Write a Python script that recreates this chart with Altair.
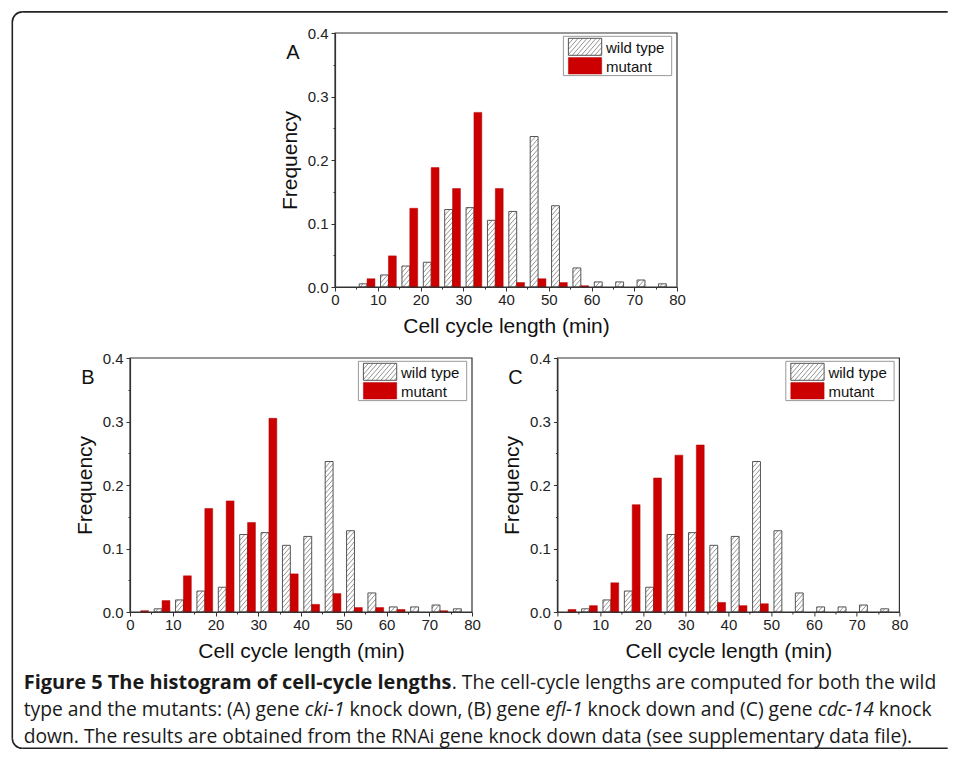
import os
import math
import struct
import altair as alt
import pandas as pd

# ---------------------------------------------------------------- data
bin_starts = list(range(0, 80, 5))          # histogram bins of 5 min
wild_type = [0.0, 0.005, 0.019, 0.033, 0.039, 0.122, 0.125, 0.105,
             0.119, 0.237, 0.128, 0.030, 0.008, 0.008, 0.011, 0.005]
mutant_A = [0.0, 0.013, 0.049, 0.124, 0.188, 0.155, 0.275, 0.155,
            0.007, 0.013, 0.007, 0.002, 0.0, 0.0, 0.0, 0.0]
mutant_B = [0.002, 0.018, 0.057, 0.163, 0.175, 0.141, 0.305, 0.060,
            0.012, 0.029, 0.007, 0.007, 0.004, 0.0, 0.002, 0.0]
mutant_C = [0.004, 0.010, 0.046, 0.169, 0.211, 0.247, 0.263, 0.015,
            0.010, 0.013, 0.0, 0.0, 0.0, 0.0, 0.0, 0.0]
panel_letters = ["A", "B", "C"]
legend_labels = ["wild type", "mutant"]
x_tick_values = list(range(0, 81, 5))
y_tick_values = [0.0, 0.05, 0.1, 0.15, 0.2, 0.25, 0.3, 0.35, 0.4]
x_title = "Cell cycle length (min)"
y_title = "Frequency"
caption_bold = "Figure 5 The histogram of cell-cycle lengths"
caption_line1 = ". The cell-cycle lengths are computed for both the wild"
caption_line2 = [("type and the mutants: (A) gene ", "normal"), ("cki-1", "italic"),
                 (" knock down, (B) gene ", "normal"), ("efl-1", "italic"),
                 (" knock down and (C) gene ", "normal"), ("cdc-14", "italic"),
                 (" knock", "normal")]
caption_line3 = "down. The results are obtained from the RNAi gene knock down data (see supplementary data file)."

# ---------------------------------------------------------------- layout
W, H = 342, 254
PX_X = W / 80.0
PX_Y = H / 0.4
RED = "#cc0000"
FONT = "Liberation Sans"
COL_GAP, ROW_GAP = 85.4, 71
A_SHIFT = 205                     # panel A sits 205 px right of panel B
# origin of the spacer cell (column 2, row 1) on the page
OX, OY = 128.3 + W + COL_GAP, 30.7

# ---------------------------------------------------------------- font metrics (for caption runs)
def _find(names):
    names = [n.lower() for n in names]
    for root in ["/usr/share/fonts", "/usr/local/share/fonts",
                 os.path.expanduser("~/.fonts"), os.path.expanduser("~/.local/share/fonts")]:
        for dp, dn, fn in os.walk(root):
            for f in fn:
                if f.lower() in names:
                    return os.path.join(dp, f)
    return None


def _metrics(path):
    data = open(path, "rb").read()
    n = struct.unpack(">H", data[4:6])[0]
    tabs = {}
    for i in range(n):
        tag, cs, off, ln = struct.unpack(">4sIII", data[12 + 16 * i: 28 + 16 * i])
        tabs[tag.decode("latin-1")] = off
    upem = struct.unpack(">H", data[tabs["head"] + 18: tabs["head"] + 20])[0]
    nhm = struct.unpack(">H", data[tabs["hhea"] + 34: tabs["hhea"] + 36])[0]
    hm = tabs["hmtx"]
    adv = [struct.unpack(">H", data[hm + 4 * i: hm + 4 * i + 2])[0] for i in range(nhm)]
    cm = tabs["cmap"]
    nt = struct.unpack(">H", data[cm + 2: cm + 4])[0]
    sub = None
    for i in range(nt):
        pid, eid, off = struct.unpack(">HHI", data[cm + 4 + 8 * i: cm + 12 + 8 * i])
        fmt = struct.unpack(">H", data[cm + off: cm + off + 2])[0]
        if fmt == 4 and pid in (0, 3):
            sub = cm + off
            break
    segx2 = struct.unpack(">H", data[sub + 6: sub + 8])[0]
    sc = segx2 // 2
    ends = struct.unpack(">%dH" % sc, data[sub + 14: sub + 14 + segx2])
    starts = struct.unpack(">%dH" % sc, data[sub + 16 + segx2: sub + 16 + 2 * segx2])
    deltas = struct.unpack(">%dh" % sc, data[sub + 16 + 2 * segx2: sub + 16 + 3 * segx2])
    rpos = sub + 16 + 3 * segx2
    ranges = struct.unpack(">%dH" % sc, data[rpos: rpos + segx2])

    def gid(c):
        for i in range(sc):
            if starts[i] <= c <= ends[i]:
                if ranges[i] == 0:
                    return (c + deltas[i]) & 0xFFFF
                a = rpos + 2 * i + ranges[i] + 2 * (c - starts[i])
                g = struct.unpack(">H", data[a: a + 2])[0]
                return (g + deltas[i]) & 0xFFFF if g else 0
        return 0

    def width(s):
        return sum(adv[min(gid(ord(ch)), nhm - 1)] for ch in s) / upem
    return width


CAP_FONT = "Open Sans"
try:
    reg = _find(["OpenSans-Regular.ttf", "OpenSans[wdth,wght].ttf", "OpenSans-VariableFont_wdth,wght.ttf"])
    if reg is None:
        CAP_FONT = "Liberation Sans"
        reg = _find(["LiberationSans-Regular.ttf"])
        bld = _find(["LiberationSans-Bold.ttf"])
        ita = _find(["LiberationSans-Italic.ttf"])
    else:
        bld = _find(["OpenSans-Bold.ttf"])
        ita = _find(["OpenSans-Italic.ttf"])
    w_reg = _metrics(reg)
    w_bold = _metrics(bld) if bld else (lambda s: 1.08 * w_reg(s))
    w_ital = _metrics(ita) if ita else (lambda s: 0.96 * w_reg(s))
except Exception:
    w_reg = lambda s: 0.53 * len(s)
    w_bold = lambda s: 0.58 * len(s)
    w_ital = lambda s: 0.51 * len(s)
WID = {"normal": w_reg, "bold": w_bold, "italic": w_ital}

# caption sizes: line 2 spans 22..930 px, line 1 ends near the frame edge
S_N = 908.0 / sum(WID[st](t) for t, st in caption_line2)
S_B = (921.0 - S_N * w_reg(caption_line1)) / w_bold(caption_bold)
S_B = max(S_N, min(1.035 * S_N, S_B))
SIZES = {"normal": S_N, "italic": S_N, "bold": S_B}

# ---------------------------------------------------------------- helpers
one = pd.DataFrame({"k": [0]})
MAJ_X = "datum.value % 10 === 0"
MAJ_Y = "abs(datum.value*10 - round(datum.value*10)) < 0.001"


def make_axes(dx):
    xa = alt.Axis(values=x_tick_values, format="d",
                  labelExpr=MAJ_X + " ? datum.label : ''",
                  tickSize={"condition": {"test": MAJ_X, "value": 4}, "value": 2},
                  labelPadding=1, titlePadding=8, labelOverlap=False, labelFlush=False, grid=False)
    ykw = dict(values=y_tick_values,
               labelExpr=MAJ_Y + " ? format(datum.value, '.1f') : ''",
               tickSize={"condition": {"test": MAJ_Y, "value": 4}, "value": 2},
               labelPadding=3, titlePadding=7, labelOverlap=False, labelFlush=False, grid=False)
    if dx:
        ykw["offset"] = -dx
    return xa, alt.Axis(**ykw)


def hatch_segments(x_lo, x_hi, y_lo, y_hi, step=5.2, slope=1.15):
    w = (x_hi - x_lo) * PX_X
    h = (y_hi - y_lo) * PX_Y
    segs = []
    c = -slope * w + step * 0.5
    while c < h:
        a = max(0.0, -c / slope)
        b = min(w, (h - c) / slope)
        if b - a > 0.4:
            segs.append((x_lo + a / PX_X, y_lo + (c + slope * a) / PX_Y,
                         x_lo + b / PX_X, y_lo + (c + slope * b) / PX_Y))
        c += step
    return segs


wt_df = pd.DataFrame({"lo": [b + 0.66 for b in bin_starts],
                      "hi": [b + 2.5 for b in bin_starts],
                      "freq": wild_type})
wt_df = wt_df[wt_df.freq > 0]
hatch_rows = []
for r in wt_df.itertuples():
    hatch_rows += hatch_segments(r.lo, r.hi, 0.0, r.freq)
# legend swatch for wild type (pixel box 233.4..266.7 x 5.3..22.3 of the plot)
hatch_rows += hatch_segments(233.4 / PX_X, 266.7 / PX_X, 0.4 - 22.3 / PX_Y, 0.4 - 5.3 / PX_Y)
hatch_df = pd.DataFrame(hatch_rows, columns=["hx1", "hy1", "hx2", "hy2"])


def panel(letter, mutant, dx=0):
    xs = alt.Scale(domain=[0, 80], nice=False, zero=False, range=[dx, dx + W])
    ys = alt.Scale(domain=[0, 0.4], nice=False, zero=False)
    xa, ya = make_axes(dx)

    def X(f):
        return alt.X(f, type="quantitative", scale=xs, axis=xa, title=x_title)

    def Y(f):
        return alt.Y(f, type="quantitative", scale=ys, axis=ya, title=y_title)

    mut_df = pd.DataFrame({"lo": [b + 2.5 for b in bin_starts],
                           "hi": [b + 4.34 for b in bin_starts],
                           "freq": mutant})
    mut_df = mut_df[mut_df.freq > 0]
    txt = dict(baseline="middle", font=FONT, color="#111111")
    layers = [
        alt.Chart(wt_df).mark_rect(fill="white", strokeOpacity=0).encode(
            x=X("lo"), x2="hi", y=Y("freq"), y2=alt.datum(0)),
        alt.Chart(hatch_df).mark_rule(color="#777777", strokeWidth=0.8).encode(
            x=X("hx1"), x2="hx2", y=Y("hy1"), y2="hy2"),
        alt.Chart(wt_df).mark_rect(fillOpacity=0, stroke="#555555", strokeWidth=1).encode(
            x=X("lo"), x2="hi", y=Y("freq"), y2=alt.datum(0)),
        alt.Chart(mut_df).mark_rect(fill=RED, stroke="#b00000", strokeWidth=0.5).encode(
            x=X("lo"), x2="hi", y=Y("freq"), y2=alt.datum(0)),
        # plot box
        alt.Chart(one).mark_rect(fillOpacity=0, stroke="#333333", strokeWidth=1.2).encode(
            x=alt.value(dx), x2=alt.value(dx + W), y=alt.value(0), y2=alt.value(H)),
        # legend box and swatches
        alt.Chart(one).mark_rect(fillOpacity=0, stroke="#999999", strokeWidth=1).encode(
            x=alt.value(dx + 228.4), x2=alt.value(dx + 336.7), y=alt.value(3.3), y2=alt.value(42.6)),
        alt.Chart(one).mark_rect(fillOpacity=0, stroke="#555555", strokeWidth=1).encode(
            x=alt.value(dx + 233.4), x2=alt.value(dx + 266.7), y=alt.value(5.3), y2=alt.value(22.3)),
        alt.Chart(one).mark_rect(fill=RED, stroke="#b00000", strokeWidth=0.5).encode(
            x=alt.value(dx + 233.4), x2=alt.value(dx + 266.7), y=alt.value(24.6), y2=alt.value(41.0)),
        alt.Chart(one).mark_text(align="left", fontSize=15, **txt).encode(
            x=alt.value(dx + 271), y=alt.value(14.5), text=alt.value(legend_labels[0])),
        alt.Chart(one).mark_text(align="left", fontSize=15, **txt).encode(
            x=alt.value(dx + 271), y=alt.value(33.5), text=alt.value(legend_labels[1])),
        # panel letter
        alt.Chart(one).mark_text(align="center", fontSize=20, **txt).encode(
            x=alt.value(dx - 42), y=alt.value(20), text=alt.value(letter)),
    ]
    return alt.layer(*layers).properties(width=W, height=H)


pA = panel(panel_letters[0], mutant_A, A_SHIFT)
pB = panel(panel_letters[1], mutant_B)
pC = panel(panel_letters[2], mutant_C)

# ---------------------------------------------------------------- caption + frame (in the spacer cell)
FL, FT = 10.6 - OX, 9.6 - OY        # frame left / top (stroke centres)
FR, FB = 946.0 - OX, 746.0 - OY     # right end of the open frame, bottom line
R = 10
SW = 1.6
fr = dict(color="#222222", strokeWidth=SW)
frame_layers = [
    alt.Chart(one).mark_rule(**fr).encode(x=alt.value(FL), y=alt.value(FT + R), y2=alt.value(FB - R)),
    alt.Chart(one).mark_rule(**fr).encode(x=alt.value(FL + R), x2=alt.value(FR), y=alt.value(FT)),
    alt.Chart(one).mark_rule(**fr).encode(x=alt.value(FL + R), x2=alt.value(FR), y=alt.value(FB)),
    alt.Chart(one).mark_arc(innerRadius=R, outerRadius=R, fillOpacity=0, stroke="#222222",
                            strokeWidth=SW).encode(
        x=alt.value(FL + R), y=alt.value(FT + R),
        theta=alt.value(1.5 * math.pi), theta2=alt.value(2 * math.pi)),
    alt.Chart(one).mark_arc(innerRadius=R, outerRadius=R, fillOpacity=0, stroke="#222222",
                            strokeWidth=SW).encode(
        x=alt.value(FL + R), y=alt.value(FB - R),
        theta=alt.value(math.pi), theta2=alt.value(1.5 * math.pi)),
]

X0 = 22 - OX
Y1, Y2, Y3 = 680.6 - OY, 707.6 - OY, 734.2 - OY
rows = {"normal": [], "bold": [], "italic": []}
rows["bold"].append((X0, Y1, caption_bold))
rows["normal"].append((X0 + S_B * w_bold(caption_bold), Y1, caption_line1))
cur = X0
for t, style in caption_line2:
    lead = len(t) - len(t.lstrip(" "))
    rows[style].append((cur + S_N * WID[style](" " * lead), Y2, t.strip()))
    cur += S_N * WID[style](t)
rows["normal"].append((X0, Y3, caption_line3))

cap_layers = []
for style, lst in rows.items():
    df = pd.DataFrame(lst, columns=["x", "y", "text"])
    cap_layers.append(
        alt.Chart(df).mark_text(align="left", baseline="middle", font=CAP_FONT,
                                fontSize=SIZES[style],
                                fontWeight="bold" if style == "bold" else "normal",
                                fontStyle="italic" if style == "italic" else "normal",
                                color="#1a1a1a").encode(
            x=alt.X("x:Q", scale=None, axis=None),
            y=alt.Y("y:Q", scale=None, axis=None),
            text="text:N"))

spacer = alt.layer(*(frame_layers + cap_layers)).properties(width=10, height=H)

chart = alt.concat(pA, spacer, pB, pC, columns=2, align="none", bounds="flush",
                   spacing={"row": ROW_GAP, "column": COL_GAP}).properties(
    padding={"left": 1, "top": 0, "right": 0, "bottom": 0}
).configure_view(strokeOpacity=0).configure_axis(
    domainColor="#333333", domainWidth=1.2, tickColor="#333333", tickWidth=1,
    labelFont=FONT, labelFontSize=15, labelColor="#222222",
    titleFont=FONT, titleFontSize=21, titleFontWeight="normal", titleColor="#111111")

chart.save("out.html", embed_options={"renderer": "svg", "actions": False})
